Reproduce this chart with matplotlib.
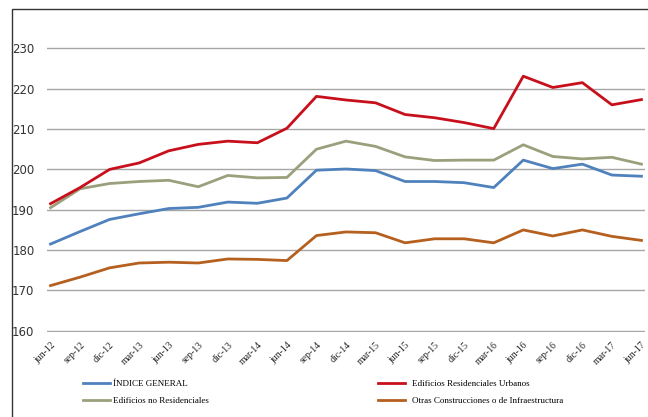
import matplotlib.pyplot as plt
from matplotlib.patches import Rectangle

# ----------------------------
# DATA
# ----------------------------
trimestres = ["jun-12", "sep-12", "dic-12", "mar-13", "jun-13", "sep-13", "dic-13",
              "mar-14", "jun-14", "sep-14", "dic-14", "mar-15", "jun-15", "sep-15",
              "dic-15", "mar-16", "jun-16", "sep-16", "dic-16", "mar-17", "jun-17"]

indice_general = [181.5, 184.6, 187.6, 189.0, 190.3, 190.6, 191.9, 191.6, 192.9, 199.8, 200.1,
                  199.7, 197.0, 197.0, 196.7, 195.5, 202.3, 200.2, 201.3, 198.6, 198.3]

residenciales = [191.5, 195.5, 200.0, 201.6, 204.6, 206.2, 207.0, 206.6, 210.2, 218.1, 217.2,
                 216.5, 213.6, 212.8, 211.6, 210.1, 223.1, 220.3, 221.5, 216.0, 217.3]

no_residenciales = [190.5, 195.2, 196.5, 197.0, 197.3, 195.7, 198.5, 197.9, 198.0, 205.0, 207.0,
                    205.7, 203.1, 202.2, 202.3, 202.3, 206.1, 203.2, 202.6, 203.0, 201.3]

otras = [171.2, 173.3, 175.6, 176.8, 177.0, 176.8, 177.8, 177.7, 177.4, 183.6, 184.5,
         184.3, 181.8, 182.8, 182.8, 181.8, 185.0, 183.5, 185.0, 183.4, 182.4]

x = list(range(len(trimestres)))

# ----------------------------
# PLOT
# ----------------------------
fig = plt.figure(figsize=(6.48, 4.17), dpi=100)
ax = fig.add_axes([47 / 648, 1 - 332 / 417, 598 / 648, 324 / 417])

# outer frame of the chart
fig.patches.append(Rectangle((12 / 648, -0.05), 1.0, 1 - 9 / 417 + 0.05,
                             transform=fig.transFigure, fill=False,
                             edgecolor="#333333", linewidth=1.0))

lw = 2.0
l_blue, = ax.plot(x, indice_general, color="#4F81BD", lw=lw)
l_green, = ax.plot(x, no_residenciales, color="#9BA07C", lw=lw)
l_red, = ax.plot(x, residenciales, color="#C8101C", lw=lw)
l_orange, = ax.plot(x, otras, color="#B5601F", lw=lw)

ax.set_ylim(159.7, 240)
ax.set_yticks([160, 170, 180, 190, 200, 210, 220, 230])
ax.set_xlim(-0.12, 20.12)
ax.set_xticks(x)
ax.set_xticklabels(trimestres, rotation=45, ha="right", rotation_mode="anchor",
                   fontsize=7.0, family="Liberation Serif", color="#222222")

ax.yaxis.grid(True, color="#A6A6A6", linewidth=1.0)
ax.set_axisbelow(True)
for s in ax.spines.values():
    s.set_visible(False)
ax.tick_params(axis="both", length=0)
ax.tick_params(axis="x", pad=6)
ax.tick_params(axis="y", pad=9, labelsize=8.5, labelcolor="#333333")

# ----------------------------
# LEGEND
# ----------------------------
fig.legend([l_blue, l_green], ["ÍNDICE GENERAL", "Edificios no Residenciales"],
           loc="upper left", bbox_to_anchor=(75 / 648, 1 - 372 / 417),
           frameon=False, prop={"family": "Liberation Serif", "size": 6.5},
           handlelength=3.0, handletextpad=0.3, labelspacing=0.9)
fig.legend([l_red, l_orange], ["Edificios Residenciales Urbanos",
                               "Otras Construcciones o de Infraestructura"],
           loc="upper left", bbox_to_anchor=(370 / 648, 1 - 372 / 417),
           frameon=False, prop={"family": "Liberation Serif", "size": 6.5},
           handlelength=3.0, handletextpad=0.8, labelspacing=0.9)

plt.savefig("out.png", dpi=100)
